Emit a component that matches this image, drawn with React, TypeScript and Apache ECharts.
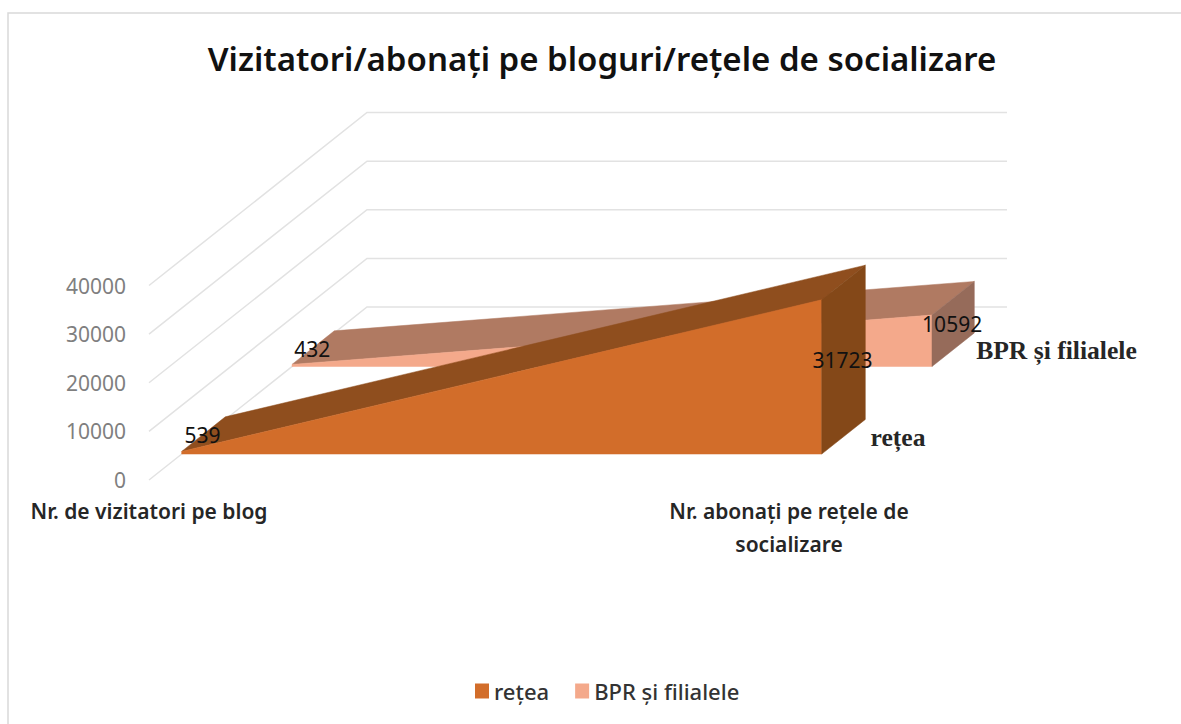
import React, { useEffect, useRef } from "react";
import * as echarts from "echarts";

const TITLE = "Vizitatori/abonați pe bloguri/rețele de socializare";
const categories = ["Nr. de vizitatori pe blog", "Nr. abonați pe rețele de\nsocializare"];
const retea = [539, 31723];
const bpr = [432, 10592];
const ticks = [0, 10000, 20000, 30000, 40000];
const SERIES_A = "rețea";
const SERIES_B = "BPR și filialele";

const DEPTH_X = 218;
const DEPTH_Y = -173;

function project(api: any, cat: number, val: number, t: number): number[] {
  const p = api.coord([cat, val]);
  return [p[0] + t * DEPTH_X, p[1] + t * DEPTH_Y];
}

function areaRender(
  tFront: number,
  tBack: number,
  colors: { front: string; top: string; side: string },
  name: string,
  nameDx: number
) {
  return (params: any, api: any) => {
    const i = params.dataIndex;
    const n = params.dataInsideLength;
    const cat = api.value(0);
    const val = api.value(1);
    const children: any[] = [];
    const poly = (points: number[][], fill: string) => ({
      type: "polygon",
      shape: { points },
      style: { fill, stroke: fill, lineWidth: 0.5 },
    });
    const source = name === SERIES_A ? retea : bpr;
    if (i < n - 1) {
      const nv = source[i + 1];
      children.push(
        poly(
          [
            project(api, cat, val, tFront),
            project(api, cat, val, tBack),
            project(api, cat + 1, nv, tBack),
            project(api, cat + 1, nv, tFront),
          ],
          colors.top
        ),
        poly(
          [
            project(api, cat, 0, tFront),
            project(api, cat, val, tFront),
            project(api, cat + 1, nv, tFront),
            project(api, cat + 1, 0, tFront),
          ],
          colors.front
        )
      );
    } else {
      children.push(
        poly(
          [
            project(api, cat, 0, tFront),
            project(api, cat, val, tFront),
            project(api, cat, val, tBack),
            project(api, cat, 0, tBack),
          ],
          colors.side
        )
      );
      const lp = project(api, cat, 0, (tFront + tBack) / 2);
      children.push({
        type: "text",
        style: {
          text: name,
          x: lp[0] + nameDx,
          y: lp[1] + 1,
          fill: "#262626",
          font: 'bold 25.6px "Liberation Serif"',
          align: "left",
          verticalAlign: "middle",
        },
      });
    }
    const mp = project(api, cat, val / 2, (tFront + tBack) / 2);
    children.push({
      type: "text",
      style: {
        text: String(val),
        x: mp[0] - 1,
        y: mp[1],
        fill: "#111111",
        font: '21px "Noto Sans"',
        align: "center",
        verticalAlign: "middle",
      },
    });
    return { type: "group", children };
  };
}

function wallRender(params: any, api: any) {
  const v = api.value(1);
  return {
    type: "polyline",
    shape: {
      points: [project(api, 0, v, 0), project(api, 0, v, 1), project(api, 1, v, 1)],
    },
    style: { fill: "none", stroke: "#e2e2e2", lineWidth: 1.5 },
  };
}

export default function App() {
  const ref = useRef<HTMLDivElement>(null);
  useEffect(() => {
    const chart = echarts.init(ref.current as HTMLDivElement, undefined, { renderer: "svg" });
    chart.setOption({
      animation: false,
      backgroundColor: "#ffffff",
      title: {
        text: TITLE,
        left: 597,
        top: 37,
        textAlign: "center",
        textStyle: { fontFamily: "Noto Sans", fontWeight: 600, fontSize: 33, color: "#111111" },
      },
      legend: {
        data: [SERIES_A, SERIES_B],
        left: 470,
        top: 675,
        itemWidth: 14,
        itemHeight: 15,
        itemGap: 26,
        icon: "rect",
        textStyle: { fontFamily: "Noto Sans", fontWeight: 500, fontSize: 22, color: "#333333" },
      },
      graphic: [
        {
          type: "rect",
          z: -1,
          shape: { x: 8, y: 13, width: 1300, height: 900 },
          style: { fill: "none", stroke: "#d9d9d9", lineWidth: 1.5 },
        },
      ],
      grid: { left: 149, right: 392, top: 285.5, bottom: 244 },
      xAxis: {
        type: "category",
        data: categories,
        boundaryGap: false,
        axisLine: { show: false },
        axisTick: { show: false },
        splitLine: { show: false },
        axisLabel: {
          margin: 14,
          interval: 0,
          fontFamily: "Noto Sans",
          fontWeight: 600,
          fontSize: 21,
          lineHeight: 33,
          color: "#262626",
          align: "center",
        },
      },
      yAxis: {
        type: "value",
        min: 0,
        max: 40000,
        interval: 10000,
        axisLine: { show: false },
        axisTick: { show: false },
        splitLine: { show: false },
        axisLabel: {
          margin: 23,
          fontFamily: "Noto Sans",
          fontSize: 21,
          color: "#7f7f7f",
          formatter: (v: number) => String(v),
        },
      },
      series: [
        {
          type: "custom",
          name: "walls",
          silent: true,
          renderItem: wallRender,
          data: ticks.map((t) => [0, t]),
          encode: { x: 0, y: 1 },
          z: 1,
        },
        {
          type: "custom",
          name: SERIES_B,
          silent: true,
          itemStyle: { color: "#f4a98b" },
          renderItem: areaRender(0.656, 0.85, { front: "#f4a98b", top: "#b07a62", side: "#966b5a" }, SERIES_B, 23),
          data: bpr.map((v, i) => [i, v]),
          encode: { x: 0, y: 1 },
          z: 2,
        },
        {
          type: "custom",
          name: SERIES_A,
          silent: true,
          itemStyle: { color: "#d26d2a" },
          renderItem: areaRender(0.15, 0.35, { front: "#d26d2a", top: "#8f4e1e", side: "#844818" }, SERIES_A, 27),
          data: retea.map((v, i) => [i, v]),
          encode: { x: 0, y: 1 },
          z: 3,
        },
      ],
    });
    return () => chart.dispose();
  }, []);
  return <div ref={ref} style={{ position: "fixed", left: 0, top: 0, width: 1181, height: 724 }} />;
}
